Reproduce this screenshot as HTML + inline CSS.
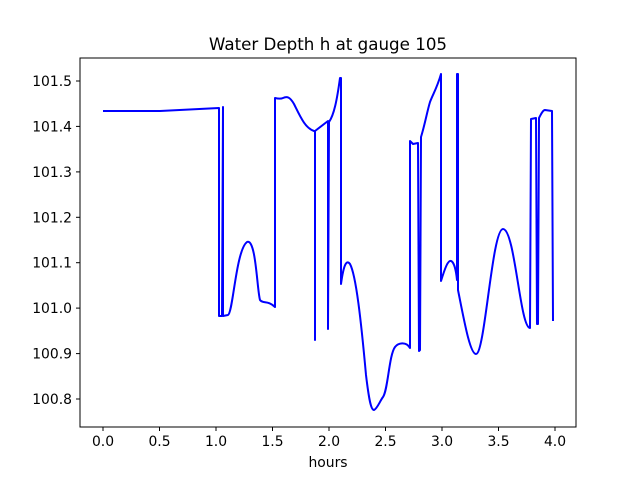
<!DOCTYPE html>
<html><head><style>body{margin:0;background:#fff}svg{display:block}text{font-family:"DejaVu Sans","Liberation Sans",sans-serif;fill:#000}</style></head>
<body>
<svg width="640" height="480" viewBox="0 0 640 480">
<rect x="80" y="58" width="496" height="369" fill="#fff" stroke="#000" stroke-width="1"/>
<path fill="none" stroke="#0000ff" stroke-width="2" stroke-linejoin="round" d="M103,111 L160,111 L219,108 L219,316 L222,316 L223,107 L223,316 L228,315 C233,313 236,250 247,242 C256,238 257,290 260,300 C263,304 268,300 275,307 L275,98 C279,99 281,99 283,98 C287,96 290,97 294,104 C300,116 305,128 314,131 L315,131 L315,340 L315,131 L328,121 L328,329 L329,122 C334,115 337,100 340,78 L341,78 L341,284 C344,262 347,260 350,264 C356,275 361,320 366,375 C369,400 371,410 374,410 C377,409 380,401 383,397 C388,390 389,355 395,347 C398,343 406,341 410,348 L410,141 L413,144 L418,143 L419,351 L420,350 L421,137 C425,124 427,112 430,102 C433,94 437,88 441,74 L441,281 C445,268 448,260 451,261 C454,262 456,270 457,280 L457,74 L458,74 L458,290 C464,320 470,354 476,354 C485,354 492,229 503,229 C515,229 520,328 530,328 L531,119 L536,118 L537,324 L538,324 L539,118 C541,114 543,110 545,110 L552,111 L553,321"/>
<g stroke="#000" stroke-width="1">
<line x1="103" y1="427" x2="103" y2="431"/><line x1="159.5" y1="427" x2="159.5" y2="431"/><line x1="216" y1="427" x2="216" y2="431"/><line x1="272.5" y1="427" x2="272.5" y2="431"/><line x1="329" y1="427" x2="329" y2="431"/><line x1="385.5" y1="427" x2="385.5" y2="431"/><line x1="442" y1="427" x2="442" y2="431"/><line x1="498.5" y1="427" x2="498.5" y2="431"/><line x1="555" y1="427" x2="555" y2="431"/>
<line x1="76" y1="81" x2="80" y2="81"/><line x1="76" y1="126.4" x2="80" y2="126.4"/><line x1="76" y1="171.9" x2="80" y2="171.9"/><line x1="76" y1="217.3" x2="80" y2="217.3"/><line x1="76" y1="262.7" x2="80" y2="262.7"/><line x1="76" y1="308.1" x2="80" y2="308.1"/><line x1="76" y1="353.6" x2="80" y2="353.6"/><line x1="76" y1="399" x2="80" y2="399"/>
</g>
<g font-size="13.9" text-anchor="middle">
<text x="103" y="446">0.0</text><text x="159.5" y="446">0.5</text><text x="216" y="446">1.0</text><text x="272.5" y="446">1.5</text><text x="329" y="446">2.0</text><text x="385.5" y="446">2.5</text><text x="442" y="446">3.0</text><text x="498.5" y="446">3.5</text><text x="555" y="446">4.0</text>
<text x="328" y="467">hours</text>
</g>
<g font-size="13.9" text-anchor="end">
<text x="72" y="86">101.5</text><text x="72" y="131.4">101.4</text><text x="72" y="176.9">101.3</text><text x="72" y="222.3">101.2</text><text x="72" y="267.7">101.1</text><text x="72" y="313.1">101.0</text><text x="72" y="358.6">100.9</text><text x="72" y="404">100.8</text>
</g>
<text x="328" y="50" font-size="16.7" text-anchor="middle">Water Depth h at gauge 105</text>
</svg>
</body></html>
